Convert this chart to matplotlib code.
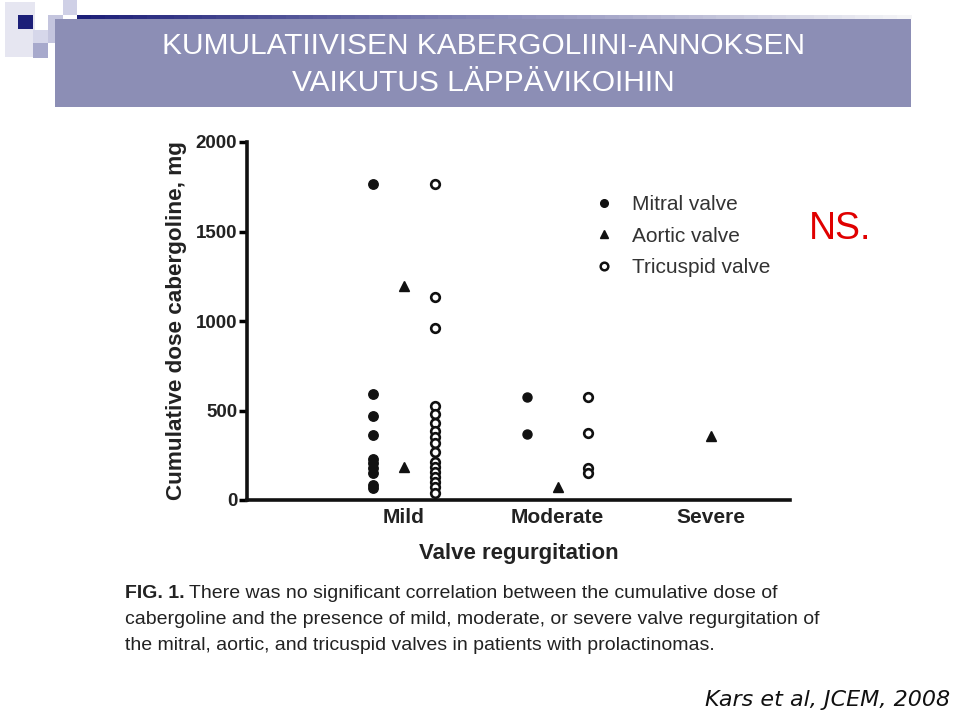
import matplotlib
matplotlib.use("Agg")
import matplotlib.pyplot as plt
from matplotlib.patches import Rectangle
from matplotlib.lines import Line2D

# Data
categories = ["Mild", "Moderate", "Severe"]
mitral_mild = [1765, 590, 470, 365, 230, 205, 180, 150, 85, 65]
mitral_moderate = [577, 368]
aortic_mild = [1195, 184]
aortic_moderate = [74]
aortic_severe = [355]
tricuspid_mild = [1765, 1135, 960, 525, 480, 432, 388, 350, 320, 270, 212, 186, 158, 130, 100, 72, 40]
tricuspid_moderate = [577, 372, 178, 150]

font = "Liberation Sans"

W, H = 959, 715
fig = plt.figure(figsize=(W / 100, H / 100), dpi=100)
fig.patch.set_facecolor("white")


def px_rect(x0, y0, x1, y1, color, z=0):
    # rectangle given in pixel coords (top-left origin)
    fig.patches.append(Rectangle((x0 / W, 1 - y1 / H), (x1 - x0) / W, (y1 - y0) / H,
                                 transform=fig.transFigure, color=color, zorder=z, lw=0))


# top-left decoration squares
px_rect(5, 2, 35, 57, "#e6e6f1")
px_rect(63, 0, 77, 15, "#cfd0e6")
px_rect(18, 15, 33, 29, "#1c1f78", 1)
px_rect(33, 30, 48, 43, "#d6d7ea")
px_rect(33, 43, 48, 58, "#a7a9cc")
px_rect(48, 15, 63, 43, "#c4c5de")
# navy line with gradient fading to right
n = 60
for i in range(n):
    t = i / (n - 1)
    c = (0.11 + 0.85 * t, 0.12 + 0.84 * t, 0.47 + 0.50 * t)
    px_rect(77 + i * (834 / n), 15, 77 + (i + 1) * (834 / n) + 1, 19, c, 1)
# banner
px_rect(55, 19, 911, 107, "#8c8eb5", 2)
fig.text(483 / W, 1 - 46 / H, "KUMULATIIVISEN KABERGOLIINI-ANNOKSEN", family=font,
         fontsize=21.5, color="white", ha="center", va="center", zorder=3)
fig.text(483 / W, 1 - 83 / H, "VAIKUTUS LÄPPÄVIKOIHIN", family=font,
         fontsize=21.5, color="white", ha="center", va="center", zorder=3)

# main chart
ax = fig.add_axes([247 / W, 1 - 500 / H, (790 - 247) / W, (500 - 142) / H])
ax.set_facecolor("none")
xpos = range(len(categories))
off = 0.2
mk = dict(clip_on=False, zorder=3)
ax.plot([0 - off] * len(mitral_mild), mitral_mild, "o", ms=6.8, color="#111", mec="#111", **mk)
ax.plot([1 - off] * len(mitral_moderate), mitral_moderate, "o", ms=6.5, color="#111", mec="#111", **mk)
ax.plot([0] * len(aortic_mild), aortic_mild, "^", ms=7, color="#111", mec="#111", **mk)
ax.plot([1] * len(aortic_moderate), aortic_moderate, "^", ms=7, color="#111", mec="#111", **mk)
ax.plot([2] * len(aortic_severe), aortic_severe, "^", ms=7, color="#111", mec="#111", **mk)
ax.plot([0 + off] * len(tricuspid_mild), tricuspid_mild, "o", ms=6.2, mfc="white", mec="#111", mew=1.9, **mk)
ax.plot([1 + off] * len(tricuspid_moderate), tricuspid_moderate, "o", ms=6.2, mfc="white", mec="#111", mew=1.9, **mk)

ax.set_xlim(-1.023, 2.514)
ax.set_ylim(0, 2000)
ax.set_yticks([0, 500, 1000, 1500, 2000])
ax.set_xticks(list(xpos))
ax.set_xticklabels(categories, family=font, fontweight="bold", fontsize=15, color="#222")
for lab in ax.get_yticklabels():
    lab.set_family(font)
    lab.set_fontweight("bold")
    lab.set_fontsize(13.5)
    lab.set_color("#222")
ax.tick_params(axis="y", direction="out", length=6, width=2.5, pad=1)
ax.tick_params(axis="x", length=0, pad=6)
for s in ["top", "right"]:
    ax.spines[s].set_visible(False)
for s in ["left", "bottom"]:
    ax.spines[s].set_linewidth(2.6)
    ax.spines[s].set_color("#111")
ax.set_ylabel("Cumulative dose cabergoline, mg", family=font, fontweight="bold",
              fontsize=16.2, color="#222", labelpad=6)
ax.set_xlabel("Valve regurgitation", family=font, fontweight="bold",
              fontsize=16, color="#222", labelpad=11)

handles = [
    Line2D([], [], ls="none", marker="o", ms=5.5, color="#111"),
    Line2D([], [], ls="none", marker="^", ms=6, color="#111"),
    Line2D([], [], ls="none", marker="o", ms=5.5, mfc="white", mec="#111", mew=1.8),
]
leg = fig.legend(handles, ["Mitral valve", "Aortic valve", "Tricuspid valve"],
                 loc="upper left", bbox_to_anchor=(595 / W, 1 - 195 / H), frameon=False,
                 prop={"family": font, "size": 15}, labelspacing=0.6,
                 handlelength=0.9, handletextpad=0.9, borderpad=0, borderaxespad=0)
for t in leg.get_texts():
    t.set_color("#333")

fig.text(840 / W, 1 - 229 / H, "NS.", family=font, fontsize=27, color="#e00000",
         ha="center", va="center")

# caption
cap_fs = 14.0
fig.canvas.draw()
r = fig.canvas.get_renderer()
t0 = fig.text(125 / W, 1 - 593 / H, "FIG. 1.", family=font, fontweight="bold",
              fontsize=cap_fs, color="#222", va="center")
bb = t0.get_window_extent(renderer=r)
fig.text((bb.x1 + 4) / W, 1 - 593 / H,
         "There was no significant correlation between the cumulative dose of",
         family=font, fontsize=cap_fs, color="#222", va="center")
fig.text(125 / W, 1 - 619 / H,
         "cabergoline and the presence of mild, moderate, or severe valve regurgitation of",
         family=font, fontsize=cap_fs, color="#222", va="center")
fig.text(125 / W, 1 - 645 / H,
         "the mitral, aortic, and tricuspid valves in patients with prolactinomas.",
         family=font, fontsize=cap_fs, color="#222", va="center")

fig.text(950 / W, 1 - 700 / H, "Kars et al, JCEM, 2008", family="DejaVu Sans", style="italic",
         fontsize=16, color="#111", ha="right", va="center")

fig.savefig("out.png", dpi=100)
